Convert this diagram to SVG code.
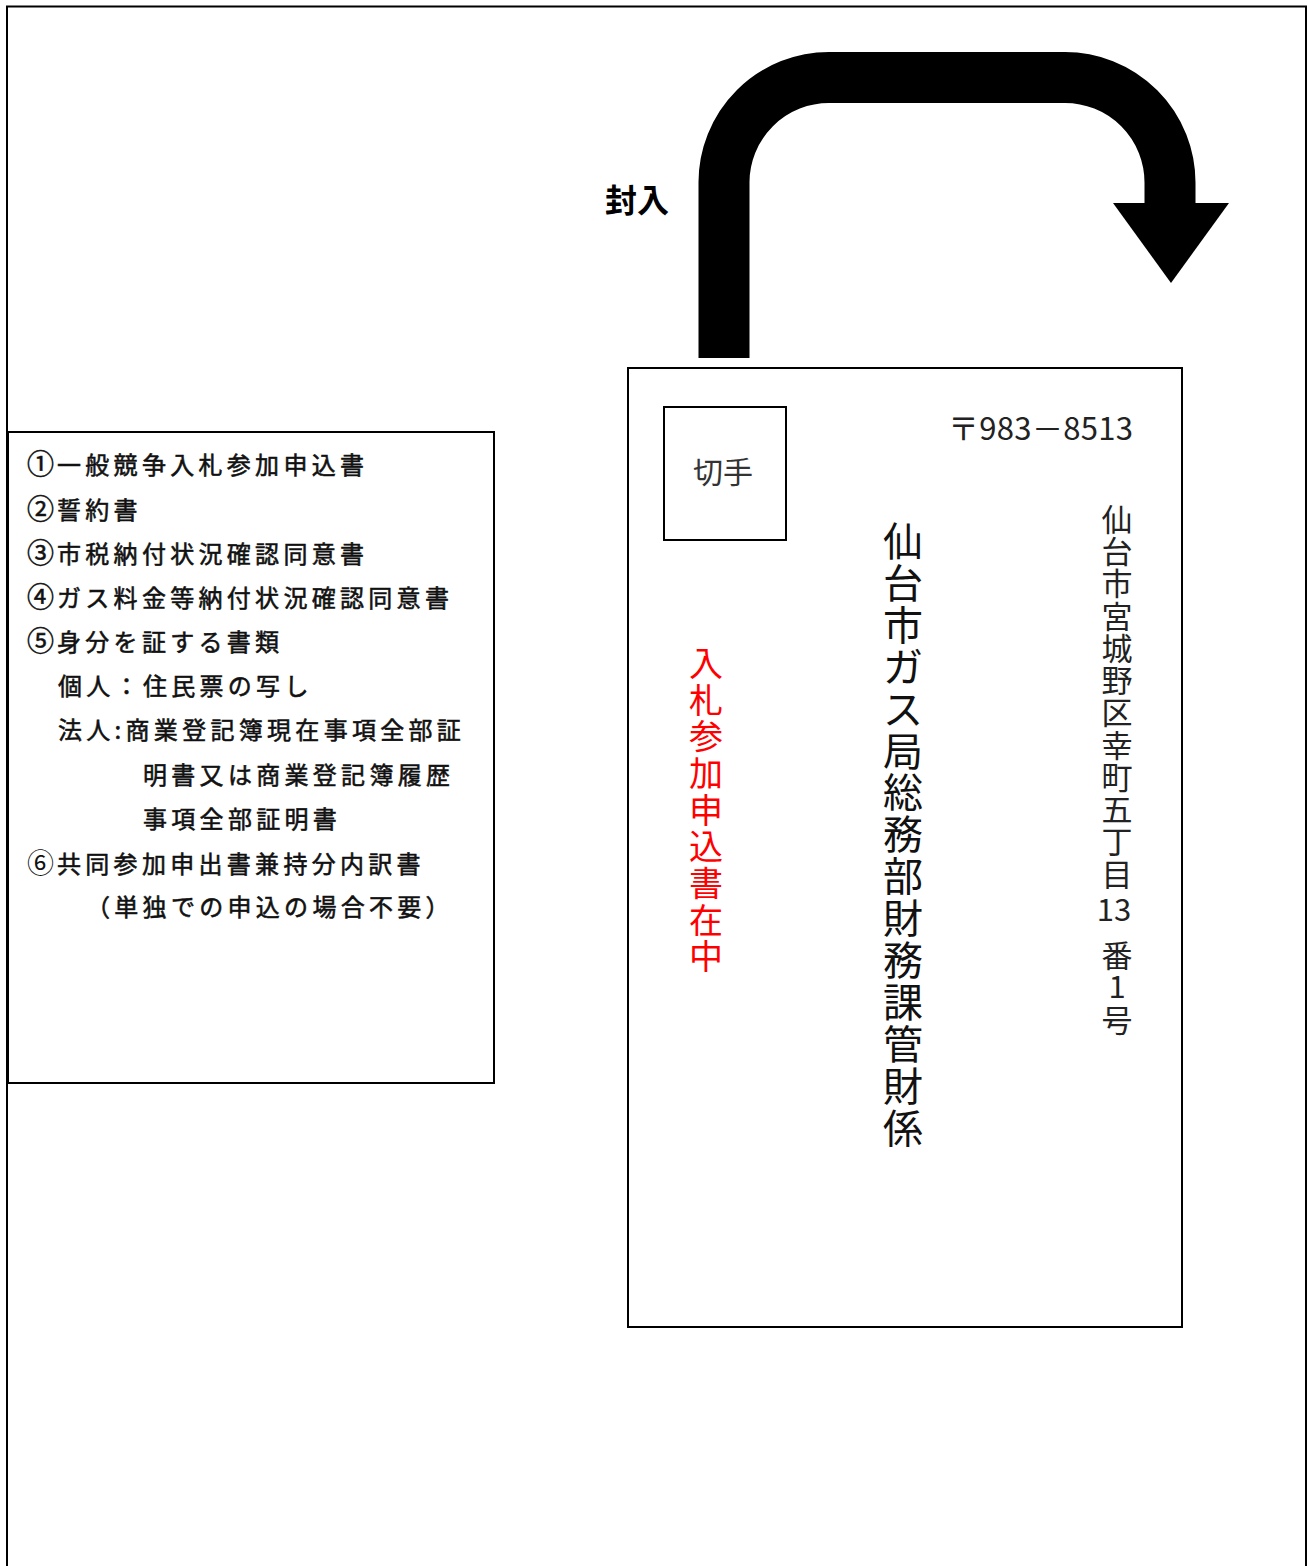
<svg xmlns="http://www.w3.org/2000/svg" width="1309" height="1566" viewBox="0 0 1309 1566">
<style>
.ln{fill:none;stroke:#000;stroke-width:2}
.jp{font-family:"Noto Sans CJK JP","Noto Sans CJK SC",sans-serif}
.lst{font-size:24px;letter-spacing:4.3px;fill:#111;stroke:#111;stroke-width:0.55px}
.num{font-size:27px;letter-spacing:0}
.v{text-anchor:middle}
</style>
<rect width="1309" height="1566" fill="#fff"/>
<path class="ln" d="M7,1570 V6.5 H1306 V1570"/>

<g id="connectors">
<path d="M724,358 V182 A105,105 0 0 1 829,77.5 H1065 A105,105 0 0 1 1170,182.5 V204" fill="none" stroke="#000" stroke-width="51"/>
<polygon points="1113,203 1229,203 1171,283" fill="#000"/>
</g>

<g id="label-fuunyu">
<text class="jp" x="605" y="212" font-size="32" font-weight="bold" fill="#000">封入</text>
</g>

<g id="list">
<rect class="ln" x="8" y="432" width="486" height="651"/>
<text class="jp lst" x="27" y="474"><tspan class="num">①</tspan><tspan x="57">一般競争入札参加申込書</tspan></text>
<text class="jp lst" x="27" y="519"><tspan class="num">②</tspan><tspan x="57">誓約書</tspan></text>
<text class="jp lst" x="27" y="563"><tspan class="num">③</tspan><tspan x="57">市税納付状況確認同意書</tspan></text>
<text class="jp lst" x="27" y="607"><tspan class="num">④</tspan><tspan x="57">ガス料金等納付状況確認同意書</tspan></text>
<text class="jp lst" x="27" y="651"><tspan class="num">⑤</tspan><tspan x="57">身分を証する書類</tspan></text>
<text class="jp lst" x="58" y="695">個人：住民票の写し</text>
<text class="jp lst" x="58" y="739">法人:商業登記簿現在事項全部証</text>
<text class="jp lst" x="143" y="784">明書又は商業登記簿履歴</text>
<text class="jp lst" x="143" y="828">事項全部証明書</text>
<text class="jp lst" x="27" y="873"><tspan class="num" style="stroke-width:0">⑥</tspan><tspan x="57">共同参加申出書兼持分内訳書</tspan></text>
<text class="jp lst" x="86" y="916">（単独での申込の場合不要）</text>
</g>

<g id="envelope">
<rect class="ln" x="628" y="368" width="554" height="959"/>
</g>

<g id="stamp">
<rect class="ln" x="664" y="407" width="122" height="133"/>
<text class="jp" x="723" y="483" font-size="30" text-anchor="middle" fill="#333">切手</text>
</g>

<g id="postcode">
<text class="jp" x="1133" y="440" font-size="31" text-anchor="end" fill="#222" textLength="185" lengthAdjust="spacing">〒983－8513</text>
</g>

<g id="address" class="jp v" font-size="31" fill="#222">
<text x="1117" y="531">仙</text>
<text x="1117" y="563">台</text>
<text x="1117" y="595">市</text>
<text x="1117" y="628">宮</text>
<text x="1117" y="660">城</text>
<text x="1117" y="692">野</text>
<text x="1117" y="724">区</text>
<text x="1117" y="757">幸</text>
<text x="1117" y="789">町</text>
<text x="1117" y="821">五</text>
<text x="1117" y="853">丁</text>
<text x="1117" y="886">目</text>
<text x="1114" y="921">13</text>
<text x="1117" y="967">番</text>
<text x="1117" y="998">1</text>
<text x="1117" y="1032">号</text>
</g>

<g id="recipient" class="jp v" font-size="40" fill="#111">
<text x="903" y="556">仙</text>
<text x="903" y="598">台</text>
<text x="903" y="640">市</text>
<text x="903" y="682">ガ</text>
<text x="903" y="724">ス</text>
<text x="903" y="766">局</text>
<text x="903" y="807">総</text>
<text x="903" y="849">務</text>
<text x="903" y="891">部</text>
<text x="903" y="933">財</text>
<text x="903" y="975">務</text>
<text x="903" y="1017">課</text>
<text x="903" y="1059">管</text>
<text x="903" y="1101">財</text>
<text x="903" y="1143">係</text>
</g>

<g id="red-note" class="jp v" font-size="34" fill="#ff0000">
<text x="706" y="676">入</text>
<text x="706" y="713">札</text>
<text x="706" y="749">参</text>
<text x="706" y="786">加</text>
<text x="706" y="823">申</text>
<text x="706" y="859">込</text>
<text x="706" y="896">書</text>
<text x="706" y="933">在</text>
<text x="706" y="969">中</text>
</g>
</svg>
